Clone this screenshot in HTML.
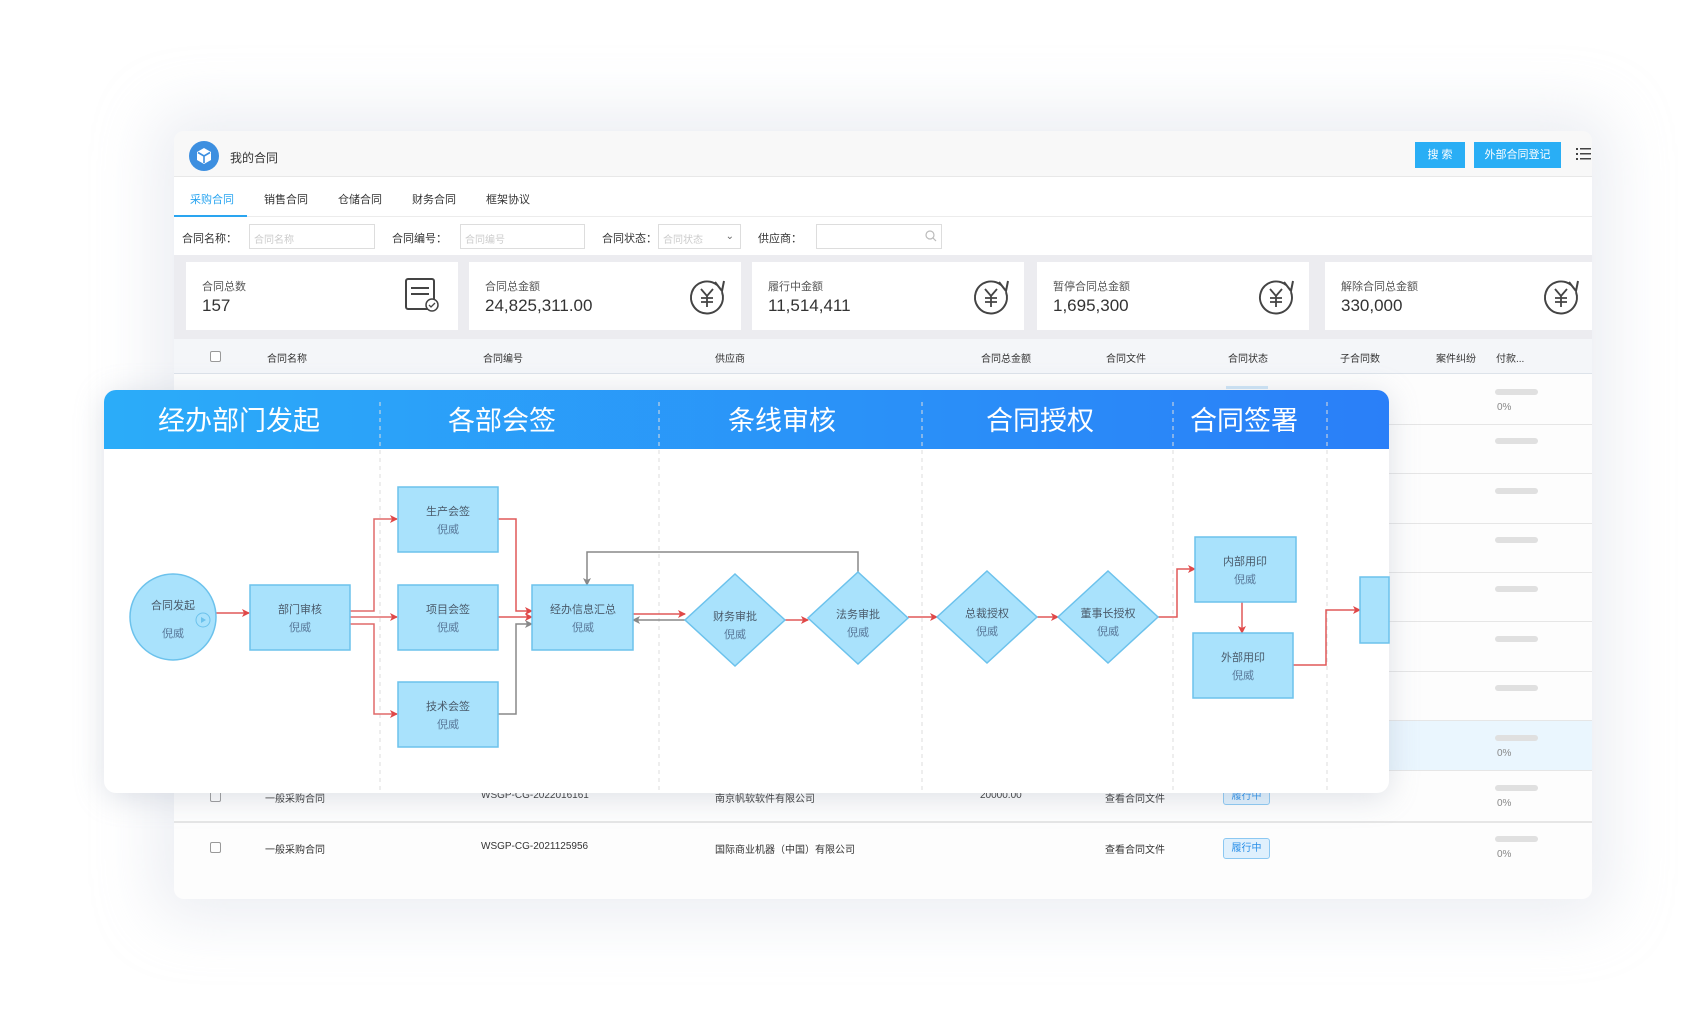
<!DOCTYPE html>
<html><head><meta charset="utf-8">
<style>
*{margin:0;padding:0;box-sizing:border-box}
body{width:1695px;height:1026px;background:#fff;position:relative;overflow:hidden;font-family:"Liberation Sans","Noto Sans CJK SC",sans-serif;color:#333}
.a{position:absolute}
.t{position:absolute;font-size:11px;white-space:nowrap;color:#333}
#panel{left:174px;top:131px;width:1418px;height:768px;background:#fdfdfd;border-radius:10px;box-shadow:0 0 60px 20px rgba(200,205,220,0.35);overflow:hidden}
.card{position:absolute;top:262px;width:272px;height:68px;background:#fff}
.card .l{position:absolute;left:16px;top:16px;font-size:11px;color:#555}
.card .v{position:absolute;left:16px;top:34px;font-size:17px;color:#333}
.row{position:absolute;left:174px;width:1418px;height:1px;background:#e6e6e6}
.bar{position:absolute;left:1495px;width:43px;height:6px;border-radius:3px;background:#e0e0e0}
.pc{position:absolute;left:1497px;font-size:10px;color:#888}
</style></head><body>
<div class="a" id="panel"></div>
<div class="a" style="left:174px;top:131px;width:1418px;height:46px;background:#f8f8f8;border-bottom:1px solid #e8e8e8;border-radius:10px 10px 0 0"></div>
<div class="a" style="left:189px;top:141px;width:30px;height:30px;border-radius:50%;background:#3d8fe0"></div>
<svg class="a" style="left:194px;top:146px" width="20" height="20" viewBox="0 0 20 20"><path d="M10 2 L17 6 L17 14 L10 18 L3 14 L3 6Z" fill="#fff"/><path d="M10 10 L10 17 M10 10 L4 6.5 M10 10 L16 6.5" stroke="#3d8fe0" stroke-width="1.6" fill="none"/></svg>
<div class="t" style="left:230px;top:149px;font-size:12px">我的合同</div>
<div class="a" style="left:1415px;top:142px;width:50px;height:26px;background:#29aef5;color:#fff;font-size:11px;text-align:center;line-height:26px">搜 索</div>
<div class="a" style="left:1474px;top:142px;width:87px;height:26px;background:#29aef5;color:#fff;font-size:11px;text-align:center;line-height:26px">外部合同登记</div>
<svg class="a" style="left:1576px;top:147px" width="15" height="14"><g fill="#444"><rect x="0" y="1" width="2" height="2"/><rect x="4" y="1" width="11" height="1.5"/><rect x="0" y="6" width="2" height="2"/><rect x="4" y="6" width="11" height="1.5"/><rect x="0" y="11" width="2" height="2"/><rect x="4" y="11" width="11" height="1.5"/></g></svg>
<div class="a" style="left:174px;top:177px;width:1418px;height:40px;background:#fff;border-bottom:1px solid #ececec"></div>
<div class="t" style="left:190px;top:191px;color:#2aa5f0">采购合同</div>
<div class="a" style="left:174px;top:215px;width:73px;height:2px;background:#2aa5f0"></div>
<div class="t" style="left:264px;top:191px">销售合同</div>
<div class="t" style="left:338px;top:191px">仓储合同</div>
<div class="t" style="left:412px;top:191px">财务合同</div>
<div class="t" style="left:486px;top:191px">框架协议</div>
<div class="a" style="left:174px;top:217px;width:1418px;height:38px;background:#fff"></div>
<div class="t" style="left:182px;top:230px">合同名称：</div>
<div class="a" style="left:249px;top:224px;width:126px;height:25px;border:1px solid #ddd;background:#fff;font-size:10px;color:#ccc;padding:6px 4px">合同名称</div>
<div class="t" style="left:392px;top:230px">合同编号：</div>
<div class="a" style="left:460px;top:224px;width:125px;height:25px;border:1px solid #ddd;background:#fff;font-size:10px;color:#ccc;padding:6px 4px">合同编号</div>
<div class="t" style="left:602px;top:230px">合同状态：</div>
<div class="a" style="left:658px;top:224px;width:83px;height:25px;border:1px solid #ddd;background:#fff;font-size:10px;color:#ccc;padding:6px 4px">合同状态<span style="position:absolute;right:6px;color:#666">⌄</span></div>
<div class="t" style="left:758px;top:230px">供应商：</div>
<div class="a" style="left:816px;top:224px;width:126px;height:25px;border:1px solid #ddd;background:#fff"></div>
<svg class="a" style="left:925px;top:230px" width="12" height="12"><circle cx="5" cy="5" r="4" fill="none" stroke="#bbb" stroke-width="1.2"/><path d="M8 8l3 3" stroke="#bbb" stroke-width="1.2"/></svg>
<div class="a" style="left:174px;top:255px;width:1418px;height:84px;background:#ececf0"></div>
<div class="card" style="left:186px"><div class="l">合同总数</div><div class="v">157</div></div>
<svg class="a" style="left:404px;top:277px" width="36" height="36"><rect x="2" y="2" width="28" height="30" rx="2" fill="none" stroke="#444" stroke-width="2"/><path d="M7 11h18M7 17h18" stroke="#444" stroke-width="2"/><circle cx="28" cy="28" r="6" fill="#fff" stroke="#444" stroke-width="1.5"/><path d="M25 28l2 2 4-4" stroke="#444" stroke-width="1.3" fill="none"/></svg>
<div class="card" style="left:469px"><div class="l">合同总金额</div><div class="v">24,825,311.00</div></div>
<div class="card" style="left:752px"><div class="l">履行中金额</div><div class="v">11,514,411</div></div>
<div class="card" style="left:1037px"><div class="l">暂停合同总金额</div><div class="v">1,695,300</div></div>
<div class="card" style="left:1325px;width:267px"><div class="l">解除合同总金额</div><div class="v">330,000</div></div>
<svg class="a" style="left:0;top:0" width="1695" height="400"><defs><g id="yen"><path d="M10 -12 A16 16 0 1 0 15 -5" fill="none" stroke="#444" stroke-width="2"/><path d="M8 -15 L15 -6 L17 -16" fill="none" stroke="#444" stroke-width="2"/><path d="M-6 -8 L0 -1 L6 -8 M0 -1 V10 M-6 1 H6 M-6 5 H6" stroke="#444" stroke-width="1.8" fill="none"/></g></defs>
<use href="#yen" x="707" y="297"/><use href="#yen" x="991" y="297"/><use href="#yen" x="1276" y="297"/><use href="#yen" x="1561" y="297"/></svg>
<div class="a" style="left:174px;top:339px;width:1418px;height:35px;background:#f4f6f9;border-bottom:1px solid #dde3ea"></div>
<div class="a" style="left:210px;top:351px;width:11px;height:11px;border:1px solid #999;border-radius:2px;background:#fff"></div>
<div class="t" style="left:267px;top:350px;font-size:10px">合同名称</div>
<div class="t" style="left:483px;top:350px;font-size:10px">合同编号</div>
<div class="t" style="left:715px;top:350px;font-size:10px">供应商</div>
<div class="t" style="left:981px;top:350px;font-size:10px">合同总金额</div>
<div class="t" style="left:1106px;top:350px;font-size:10px">合同文件</div>
<div class="t" style="left:1228px;top:350px;font-size:10px">合同状态</div>
<div class="t" style="left:1340px;top:350px;font-size:10px">子合同数</div>
<div class="t" style="left:1436px;top:350px;font-size:10px">案件纠纷</div>
<div class="t" style="left:1496px;top:350px;font-size:10px">付款...</div>
<div class="a" style="left:174px;top:720px;width:1418px;height:50px;background:#eaf6fe"></div>
<div class="row" style="top:424px"></div><div class="row" style="top:473px"></div><div class="row" style="top:523px"></div><div class="row" style="top:572px"></div><div class="row" style="top:621px"></div><div class="row" style="top:671px"></div><div class="row" style="top:720px"></div><div class="row" style="top:770px"></div><div class="row" style="top:821px;height:2px"></div>
<div class="bar" style="top:389px"></div><div class="pc" style="top:402px">0%</div>
<div class="bar" style="top:438px"></div><div class="bar" style="top:488px"></div><div class="bar" style="top:537px"></div><div class="bar" style="top:586px"></div><div class="bar" style="top:636px"></div><div class="bar" style="top:685px"></div>
<div class="bar" style="top:735px"></div><div class="pc" style="top:748px">0%</div>
<div class="bar" style="top:785px"></div><div class="pc" style="top:798px">0%</div>
<div class="bar" style="top:836px"></div><div class="pc" style="top:849px;height:8px;overflow:hidden">0%</div>
<div class="a" style="left:210px;top:791px;width:11px;height:11px;border:1px solid #999;border-radius:2px"></div>
<div class="t" style="left:265px;top:790px;font-size:10px">一般采购合同</div>
<div class="t" style="left:481px;top:790px;font-size:10px">WSGP-CG-2022016161</div>
<div class="t" style="left:715px;top:790px;font-size:10px">南京帆软软件有限公司</div>
<div class="t" style="left:980px;top:790px;font-size:10px">20000.00</div>
<div class="t" style="left:1105px;top:790px;font-size:10px">查看合同文件</div>
<div class="a" style="left:1223px;top:788px;width:47px;height:17px;border:1px solid #8cc8f2;background:#dff0fd;border-radius:3px;color:#2a8fe8;font-size:10px;text-align:center;line-height:15px">履行中</div>
<div class="a" style="left:210px;top:842px;width:11px;height:11px;border:1px solid #999;border-radius:2px"></div>
<div class="t" style="left:265px;top:841px;font-size:10px">一般采购合同</div>
<div class="t" style="left:481px;top:841px;font-size:10px">WSGP-CG-2021125956</div>
<div class="t" style="left:715px;top:841px;font-size:10px">国际商业机器（中国）有限公司</div>
<div class="t" style="left:1105px;top:841px;font-size:10px">查看合同文件</div>
<div class="a" style="left:1223px;top:838px;width:47px;height:21px;border:1px solid #8cc8f2;background:#dff0fd;border-radius:3px;color:#2a8fe8;font-size:10px;text-align:center;line-height:19px">履行中</div>
<div class="a" style="left:1226px;top:386px;width:42px;height:3px;background:#cfe6f8"></div>

<div class="a" style="left:104px;top:390px;width:1285px;height:403px;background:#fff;border-radius:12px;box-shadow:0 4px 30px rgba(150,160,180,0.3);overflow:hidden">
<div class="a" style="left:0;top:0;width:1285px;height:59px;background:linear-gradient(90deg,#2bacf9,#2a7ff8)"></div>
</div>
<svg class="a" style="left:0;top:0" width="1695" height="1026" font-family="Liberation Sans, Noto Sans CJK SC, sans-serif">
<defs>
<marker id="r" markerWidth="8" markerHeight="8" refX="7" refY="4" orient="auto" markerUnits="userSpaceOnUse"><path d="M0 0 L8 4 L0 8 L2 4Z" fill="#e04848"/></marker>
<marker id="g" markerWidth="8" markerHeight="8" refX="7" refY="4" orient="auto" markerUnits="userSpaceOnUse"><path d="M0 0 L8 4 L0 8 L2 4Z" fill="#888"/></marker>
</defs>
<g fill="#fff" font-size="27" text-anchor="middle">
<text x="239" y="430">经办部门发起</text><text x="502" y="430">各部会签</text><text x="782" y="430">条线审核</text><text x="1040" y="430">合同授权</text><text x="1244" y="430">合同签署</text></g>
<g stroke="#ddd" stroke-dasharray="4,4" stroke-width="1"><path d="M380 402V793M659 402V793M922 402V793M1173 402V793M1327 402V793"/></g>
<g fill="none" stroke-width="1.5">
<path d="M215 613H249" stroke="#e05858" marker-end="url(#r)"/>
<path d="M350 611H374V519H397" stroke="#e06a6a" marker-end="url(#r)"/>
<path d="M350 617H397" stroke="#e06a6a" marker-end="url(#r)"/>
<path d="M350 624H374V714H397" stroke="#e06a6a" marker-end="url(#r)"/>
<path d="M498 519H516V611H532" stroke="#e05858" marker-end="url(#r)"/>
<path d="M498 617H532" stroke="#e05858" marker-end="url(#r)"/>
<path d="M498 714H516V624H532" stroke="#888" marker-end="url(#g)"/>
<path d="M858 572V552H587V585" stroke="#888" marker-end="url(#g)"/>
<path d="M633 614H685" stroke="#e05858" marker-end="url(#r)"/>
<path d="M685 620H633" stroke="#888" marker-end="url(#g)"/>
<path d="M785 620H808" stroke="#e05858" marker-end="url(#r)"/>
<path d="M908 617H937" stroke="#e05858" marker-end="url(#r)"/>
<path d="M1037 617H1058" stroke="#e05858" marker-end="url(#r)"/>
<path d="M1158 617H1177V569H1195" stroke="#e05858" marker-end="url(#r)"/>
<path d="M1242 602V633" stroke="#e05858" marker-end="url(#r)"/>
<path d="M1293 665H1326V610H1360" stroke="#e05858" marker-end="url(#r)"/>
</g>
<g fill="#a9e2fc" stroke="#6cc2ec" stroke-width="1.5">
<circle cx="173" cy="617" r="43"/>
<rect x="250" y="585" width="100" height="65"/>
<rect x="398" y="487" width="100" height="65"/>
<rect x="398" y="585" width="100" height="65"/>
<rect x="398" y="682" width="100" height="65"/>
<rect x="532" y="585" width="101" height="65"/>
<path d="M735 574L785 620L735 666L685 620Z"/>
<path d="M858 572L908 618L858 664L808 618Z"/>
<path d="M987 571L1037 617L987 663L937 617Z"/>
<path d="M1108 571L1158 617L1108 663L1058 617Z"/>
<rect x="1195" y="537" width="101" height="65"/>
<rect x="1193" y="633" width="100" height="65"/>
<rect x="1360" y="577" width="29" height="66"/>
</g>
<circle cx="203" cy="620" r="7" fill="none" stroke="#6cc2ec"/><path d="M201 617L206 620L201 623Z" fill="#6cc2ec"/>
<g font-size="11" text-anchor="middle" fill="#4a5a6a">
<text x="173" y="609">合同发起</text><text x="173" y="637" fill="#5a7a9a">倪威</text>
<text x="300" y="613">部门审核</text><text x="300" y="631" fill="#5a7a9a">倪威</text>
<text x="448" y="515">生产会签</text><text x="448" y="533" fill="#5a7a9a">倪威</text>
<text x="448" y="613">项目会签</text><text x="448" y="631" fill="#5a7a9a">倪威</text>
<text x="448" y="710">技术会签</text><text x="448" y="728" fill="#5a7a9a">倪威</text>
<text x="583" y="613">经办信息汇总</text><text x="583" y="631" fill="#5a7a9a">倪威</text>
<text x="735" y="620">财务审批</text><text x="735" y="638" fill="#5a7a9a">倪威</text>
<text x="858" y="618">法务审批</text><text x="858" y="636" fill="#5a7a9a">倪威</text>
<text x="987" y="617">总裁授权</text><text x="987" y="635" fill="#5a7a9a">倪威</text>
<text x="1108" y="617">董事长授权</text><text x="1108" y="635" fill="#5a7a9a">倪威</text>
<text x="1245" y="565">内部用印</text><text x="1245" y="583" fill="#5a7a9a">倪威</text>
<text x="1243" y="661">外部用印</text><text x="1243" y="679" fill="#5a7a9a">倪威</text>
</g>
</svg>
</body></html>
